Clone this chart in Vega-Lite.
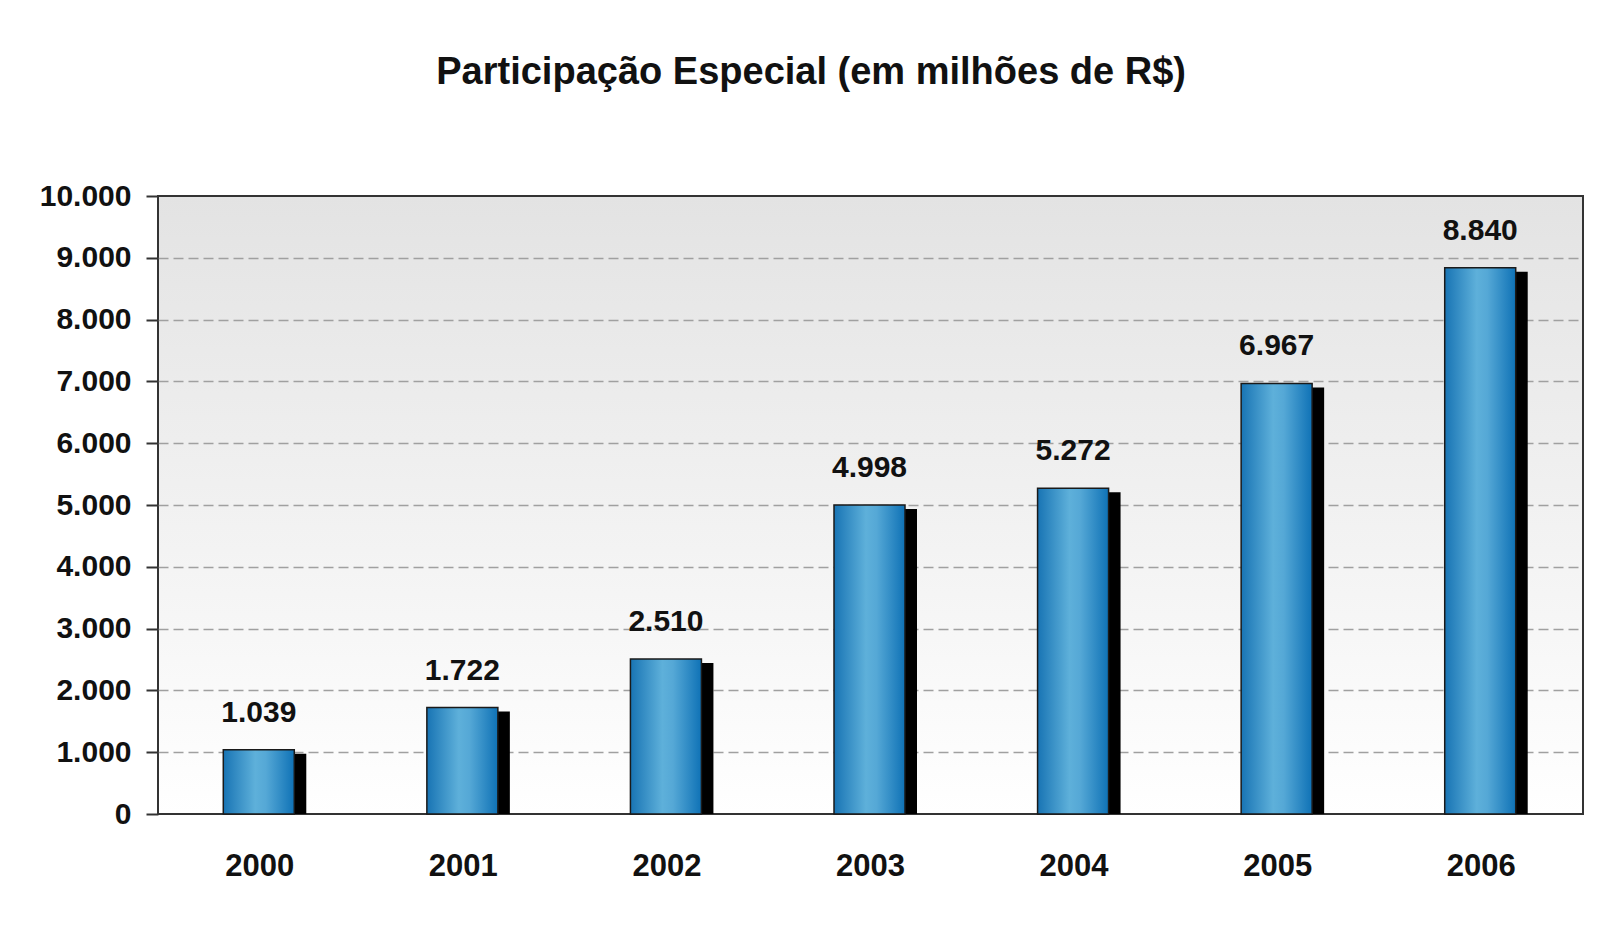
{
  "$schema": "https://vega.github.io/schema/vega-lite/v6.json",
  "autosize": {"type": "none"},
  "width": 1425,
  "height": 618,
  "padding": {"left": 158, "top": 196, "right": 20, "bottom": 115},
  "background": "#ffffff",
  "title": {
    "text": "Participação Especial (em milhões de R$)",
    "anchor": "middle",
    "frame": "bounds",
    "font": "Liberation Sans",
    "fontSize": 38,
    "fontWeight": "bold",
    "color": "#111111",
    "offset": 89
  },
  "config": {
    "locale": {"number": {"decimal": ",", "thousands": ".", "grouping": [3], "currency": ["R$", ""]}},
    "view": {
      "stroke": "#333333",
      "strokeWidth": 2,
      "fill": {
        "gradient": "linear",
        "x1": 0, "y1": 0, "x2": 0, "y2": 1,
        "stops": [
          {"offset": 0, "color": "#e3e3e3"},
          {"offset": 1, "color": "#ffffff"}
        ]
      }
    },
    "axis": {
      "labelFont": "Liberation Sans",
      "labelFontWeight": "bold",
      "labelColor": "#111111",
      "titleFont": "Liberation Sans"
    }
  },
  "data": {
    "values": [
      {"ano": "2000", "valor": 1039},
      {"ano": "2001", "valor": 1722},
      {"ano": "2002", "valor": 2510},
      {"ano": "2003", "valor": 4998},
      {"ano": "2004", "valor": 5272},
      {"ano": "2005", "valor": 6967},
      {"ano": "2006", "valor": 8840}
    ]
  },
  "encoding": {
    "x": {
      "field": "ano",
      "type": "ordinal",
      "scale": {"paddingInner": 0, "paddingOuter": 0},
      "axis": {
        "title": null,
        "labelAngle": 0,
        "labelFontSize": 31,
        "labelPadding": 37,
        "ticks": false,
        "tickSize": 0,
        "domain": false,
        "grid": false
      }
    },
    "y": {
      "field": "valor",
      "type": "quantitative",
      "scale": {"domain": [0, 10000], "nice": false},
      "axis": {
        "title": null,
        "values": [0, 1000, 2000, 3000, 4000, 5000, 6000, 7000, 8000, 9000, 10000],
        "format": ",d",
        "labelFontSize": 30,
        "labelPadding": 15,
        "tickSize": 12,
        "tickColor": "#333333",
        "tickWidth": 2,
        "domain": false,
        "grid": true,
        "gridColor": "#a0a0a0",
        "gridDash": [10, 5],
        "gridWidth": 1.5,
        "gridOpacity": {"condition": {"test": "datum.value === 0 || datum.value === 10000", "value": 0}, "value": 1}
      }
    }
  },
  "layer": [
    {
      "mark": {"type": "bar", "color": "#000000", "size": 71, "xOffset": 11, "yOffset": 4, "clip": true}
    },
    {
      "mark": {
        "type": "bar",
        "size": 71,
        "xOffset": -1,
        "stroke": "#1a1a1a",
        "strokeWidth": 1.5,
        "fill": {
          "gradient": "linear",
          "x1": 0, "y1": 0, "x2": 1, "y2": 0,
          "stops": [
            {"offset": 0, "color": "#1874b4"},
            {"offset": 0.45, "color": "#5eb0da"},
            {"offset": 0.6, "color": "#55a8d6"},
            {"offset": 1, "color": "#0f72b6"}
          ]
        }
      }
    },
    {
      "mark": {
        "type": "text",
        "font": "Liberation Sans",
        "fontWeight": "bold",
        "fontSize": 30,
        "color": "#111111",
        "baseline": "middle",
        "dy": -37,
        "xOffset": -1
      },
      "encoding": {
        "text": {"field": "valor", "type": "quantitative", "format": ",d"}
      }
    }
  ]
}
